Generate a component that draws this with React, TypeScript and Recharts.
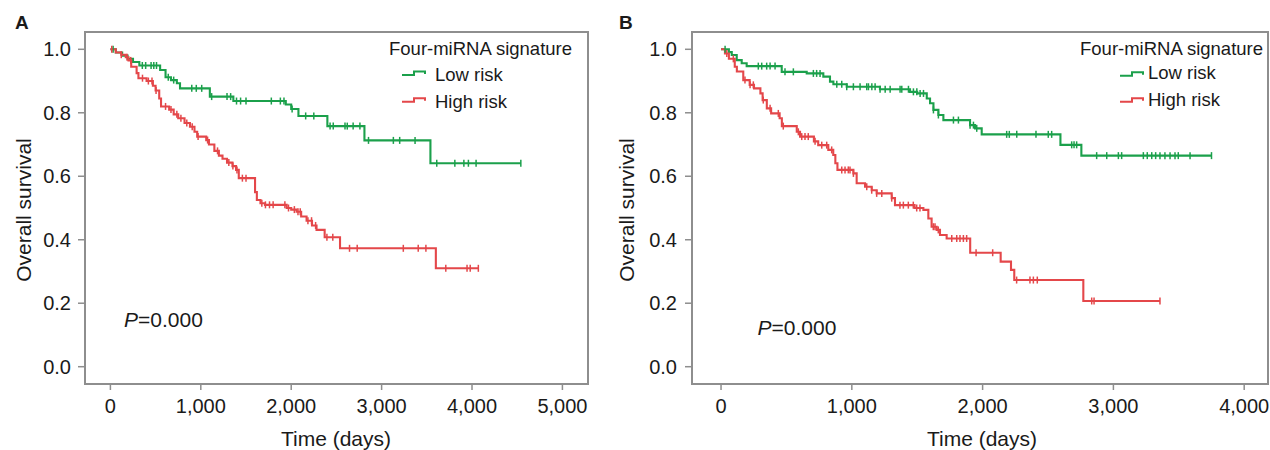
import React from 'react';
import { LineChart, Line, XAxis, YAxis, ReferenceArea } from 'recharts';

const GREEN = '#1ba04b';
const RED = '#e4474a';
const FRAME = '#8e8e8e';
const TXT = '#1a1a1a';
const FONT = '"Liberation Sans", Arial, Helvetica, sans-serif';

// ---------- Panel A ----------
const aXTicks = [0, 1000, 2000, 3000, 4000, 5000];
const aLowStepT = [0, 60, 130, 190, 250, 320, 550, 610, 670, 735, 770, 1100, 1360, 1940, 2000, 2080, 2400, 2810, 3540];
const aLowStepS = [1.0, 0.99, 0.98, 0.97, 0.96, 0.949, 0.935, 0.912, 0.903, 0.893, 0.877, 0.851, 0.837, 0.826, 0.812, 0.79, 0.758, 0.713, 0.641];
const aLowCensor = [30, 353, 390, 450, 480, 510, 640, 700, 900, 950, 1010, 1120, 1290, 1330, 1395, 1440, 1500, 1780, 1880, 1920, 2010, 2160, 2250, 2430, 2465, 2595, 2620, 2685, 2760, 2855, 3130, 3200, 3370, 3610, 3810, 3910, 3960, 4045, 4540];
const aHighStepT = [0, 60, 120, 170, 200, 230, 290, 310, 400, 470, 500, 540, 560, 650, 700, 750, 820, 880, 930, 960, 1060, 1090, 1150, 1200, 1240, 1290, 1350, 1390, 1420, 1600, 1620, 1660, 1710, 1950, 2000, 2060, 2110, 2170, 2230, 2280, 2370, 2540, 3600];
const aHighStepS = [1.0, 0.99, 0.983, 0.975, 0.965, 0.945, 0.925, 0.909, 0.9, 0.885, 0.87, 0.845, 0.82, 0.81, 0.795, 0.783, 0.768, 0.756, 0.74, 0.725, 0.714, 0.7, 0.68, 0.665, 0.655, 0.643, 0.632, 0.62, 0.594, 0.55, 0.525, 0.515, 0.51, 0.5, 0.495, 0.488, 0.473, 0.46, 0.445, 0.431, 0.408, 0.373, 0.31];
const aHighCensor = [15, 120, 185, 225, 355, 420, 460, 505, 610, 670, 735, 780, 845, 905, 970, 1075, 1185, 1310, 1355, 1400, 1460, 1500, 1675, 1715, 1760, 1800, 1930, 1970, 2035, 2075, 2100, 2185, 2225, 2270, 2395, 2460, 2645, 2730, 3240, 3405, 3490, 3710, 3945, 3980, 4070];

// ---------- Panel B ----------
const bXTicks = [0, 1000, 2000, 3000, 4000];
const bLowStepT = [0, 60, 82, 120, 158, 196, 464, 655, 782, 833, 859, 961, 1215, 1445, 1500, 1573, 1598, 1624, 1662, 1700, 1904, 1942, 1993, 2595, 2755];
const bLowStepS = [1.0, 0.991, 0.982, 0.966, 0.956, 0.947, 0.929, 0.924, 0.914, 0.898, 0.89, 0.882, 0.874, 0.866, 0.861, 0.845, 0.83, 0.809, 0.793, 0.777, 0.761, 0.751, 0.732, 0.699, 0.665];
const bLowCensor = [31, 285, 311, 349, 375, 413, 489, 553, 706, 731, 757, 885, 923, 961, 1012, 1063, 1114, 1127, 1153, 1178, 1216, 1255, 1293, 1369, 1382, 1433, 1471, 1497, 1522, 1548, 1624, 1662, 1777, 1815, 1904, 1930, 1955, 2184, 2204, 2261, 2408, 2502, 2528, 2681, 2699, 2719, 2872, 2949, 3038, 3063, 3229, 3259, 3293, 3323, 3356, 3394, 3433, 3471, 3496, 3586, 3750];
const bHighStepT = [0, 30, 60, 105, 121, 170, 219, 252, 301, 318, 350, 383, 448, 465, 579, 604, 710, 743, 820, 858, 874, 890, 1012, 1037, 1101, 1152, 1190, 1305, 1330, 1480, 1547, 1585, 1610, 1649, 1674, 1725, 1905, 2138, 2217, 2242, 2770];
const bHighStepS = [1.0, 0.987, 0.97, 0.945, 0.93, 0.903, 0.888, 0.877, 0.861, 0.84, 0.814, 0.798, 0.783, 0.758, 0.74, 0.725, 0.71, 0.698, 0.683, 0.667, 0.641, 0.62, 0.609, 0.578, 0.567, 0.556, 0.546, 0.531, 0.509, 0.5, 0.494, 0.467, 0.441, 0.431, 0.415, 0.404, 0.359, 0.331, 0.305, 0.273, 0.207];
const bHighCensor = [44, 94, 183, 222, 247, 323, 375, 438, 476, 591, 617, 642, 667, 719, 770, 808, 846, 923, 948, 973, 986, 1012, 1114, 1152, 1190, 1229, 1305, 1368, 1394, 1432, 1470, 1496, 1521, 1623, 1636, 1661, 1764, 1802, 1827, 1853, 1878, 1950, 2077, 2260, 2362, 2388, 2418, 2834, 2852, 3356];

const yTicks = [0, 0.2, 0.4, 0.6, 0.8, 1.0];
const Y_DOMAIN: [number, number] = [-0.0545, 1.0545];

type Pt = { t: number; s: number; c: boolean };

function buildCurve(stepT: number[], stepS: number[], censor: number[]): Pt[] {
  const pts: Pt[] = stepT.map((t, i) => ({ t, s: stepS[i], c: false }));
  censor.forEach((t) => {
    let s = stepS[0];
    for (let i = 0; i < stepT.length; i++) if (stepT[i] <= t) s = stepS[i];
    pts.push({ t, s, c: true });
  });
  pts.sort((a, b) => a.t - b.t || (a.c ? 1 : 0) - (b.c ? 1 : 0));
  return pts;
}

const aLow = buildCurve(aLowStepT, aLowStepS, aLowCensor);
const aHigh = buildCurve(aHighStepT, aHighStepS, aHighCensor);
const bLow = buildCurve(bLowStepT, bLowStepS, bLowCensor);
const bHigh = buildCurve(bHighStepT, bHighStepS, bHighCensor);

const censorDot = (color: string) => (props: any) => {
  const { cx, cy, payload, index } = props;
  if (!payload || !payload.c || cx == null || cy == null) return <g key={`n${index}`} />;
  return (
    <line key={`c${index}`} x1={cx} x2={cx} y1={cy - 3.5} y2={cy + 3.5} stroke={color} strokeWidth={1.5} />
  );
};

const fmtX = (v: number) => v.toLocaleString('en-US');
const fmtY = (v: number) => v.toFixed(1);

type PanelProps = {
  left: number;
  width: number;
  yAxisWidth: number;
  rightMargin: number;
  xDomain: [number, number];
  xTicks: number[];
  low: Pt[];
  high: Pt[];
  yTickMargin: number;
};

function Panel(p: PanelProps) {
  return (
    <div style={{ position: 'absolute', left: p.left, top: 0 }}>
      <LineChart width={p.width} height={450} margin={{ top: 32, right: p.rightMargin, bottom: 0, left: 0 }}>
        <XAxis
          type="number"
          dataKey="t"
          domain={p.xDomain}
          ticks={p.xTicks}
          allowDataOverflow
          height={66}
          tickSize={6}
          tickMargin={9}
          axisLine={false}
          tickLine={{ stroke: FRAME, strokeWidth: 1.5 }}
          tick={{ fill: TXT, fontSize: 20, fontFamily: FONT }}
          tickFormatter={fmtX}
          interval={0}
        />
        <YAxis
          type="number"
          domain={Y_DOMAIN}
          ticks={yTicks}
          allowDataOverflow
          width={p.yAxisWidth}
          tickSize={7}
          tickMargin={p.yTickMargin}
          axisLine={false}
          tickLine={{ stroke: FRAME, strokeWidth: 1.5 }}
          tick={{ fill: TXT, fontSize: 20, fontFamily: FONT }}
          tickFormatter={fmtY}
          interval={0}
        />
        <ReferenceArea
          x1={p.xDomain[0]}
          x2={p.xDomain[1]}
          y1={Y_DOMAIN[0]}
          y2={Y_DOMAIN[1]}
          fill="none"
          stroke={FRAME}
          strokeWidth={2}
          ifOverflow="visible"
        />
        <Line
          data={p.low}
          dataKey="s"
          type="stepAfter"
          stroke={GREEN}
          strokeWidth={2.1}
          dot={censorDot(GREEN)}
          activeDot={false}
          isAnimationActive={false}
        />
        <Line
          data={p.high}
          dataKey="s"
          type="stepAfter"
          stroke={RED}
          strokeWidth={2.1}
          dot={censorDot(RED)}
          activeDot={false}
          isAnimationActive={false}
        />
      </LineChart>
    </div>
  );
}

function LegendIcon({ x, y, color }: { x: number; y: number; color: string }) {
  const d = `M${x},${y} L${x + 12},${y} L${x + 12},${y - 3.5} L${x + 23},${y - 3.5} L${x + 23},${y - 1}`;
  return <path d={d} fill="none" stroke={color} strokeWidth={2} />;
}

function Overlay() {
  const base = { fontFamily: FONT, fill: TXT } as const;
  return (
    <svg
      width={1270}
      height={450}
      style={{ position: 'absolute', left: 0, top: 0, pointerEvents: 'none' }}
    >
      <text x={15} y={28.5} fontSize={19} fontWeight="bold" {...base}>A</text>
      <text x={619} y={28.5} fontSize={19} fontWeight="bold" {...base}>B</text>

      <text transform="translate(30.5,210) rotate(-90)" textAnchor="middle" fontSize={21} {...base}>Overall survival</text>
      <text x={336} y={446} textAnchor="middle" fontSize={21} {...base}>Time (days)</text>
      <text transform="translate(634,210) rotate(-90)" textAnchor="middle" fontSize={21} {...base}>Overall survival</text>
      <text x={982} y={446} textAnchor="middle" fontSize={21} {...base}>Time (days)</text>

      <text x={389} y={55} fontSize={18.5} {...base}>Four-miRNA signature</text>
      <LegendIcon x={402} y={75} color={GREEN} />
      <text x={435} y={80.7} fontSize={18.5} {...base}>Low risk</text>
      <LegendIcon x={402} y={101.7} color={RED} />
      <text x={435} y={108.3} fontSize={18.5} {...base}>High risk</text>

      <text x={1080} y={55} fontSize={18.5} {...base}>Four-miRNA signature</text>
      <LegendIcon x={1120} y={75.7} color={GREEN} />
      <text x={1148} y={78.5} fontSize={18.5} {...base}>Low risk</text>
      <LegendIcon x={1120} y={101.7} color={RED} />
      <text x={1148} y={106} fontSize={18.5} {...base}>High risk</text>

      <text x={124} y={327} fontSize={21} {...base}>
        <tspan fontStyle="italic">P</tspan>=0.000
      </text>
      <text x={757.5} y={335} fontSize={21} {...base}>
        <tspan fontStyle="italic">P</tspan>=0.000
      </text>
    </svg>
  );
}

export default function App() {
  return (
    <div style={{ position: 'absolute', left: 0, top: 0, width: 1270, height: 450, background: '#fff', overflow: 'hidden' }}>
      <Panel
        left={0}
        width={600}
        yAxisWidth={85}
        rightMargin={12}
        xDomain={[-281, 5283]}
        xTicks={aXTicks}
        low={aLow}
        high={aHigh}
        yTickMargin={7}
      />
      <Panel
        left={600}
        width={670}
        yAxisWidth={92}
        rightMargin={2}
        xDomain={[-222, 4182]}
        xTicks={bXTicks}
        low={bLow}
        high={bHigh}
        yTickMargin={8}
      />
      <Overlay />
    </div>
  );
}
